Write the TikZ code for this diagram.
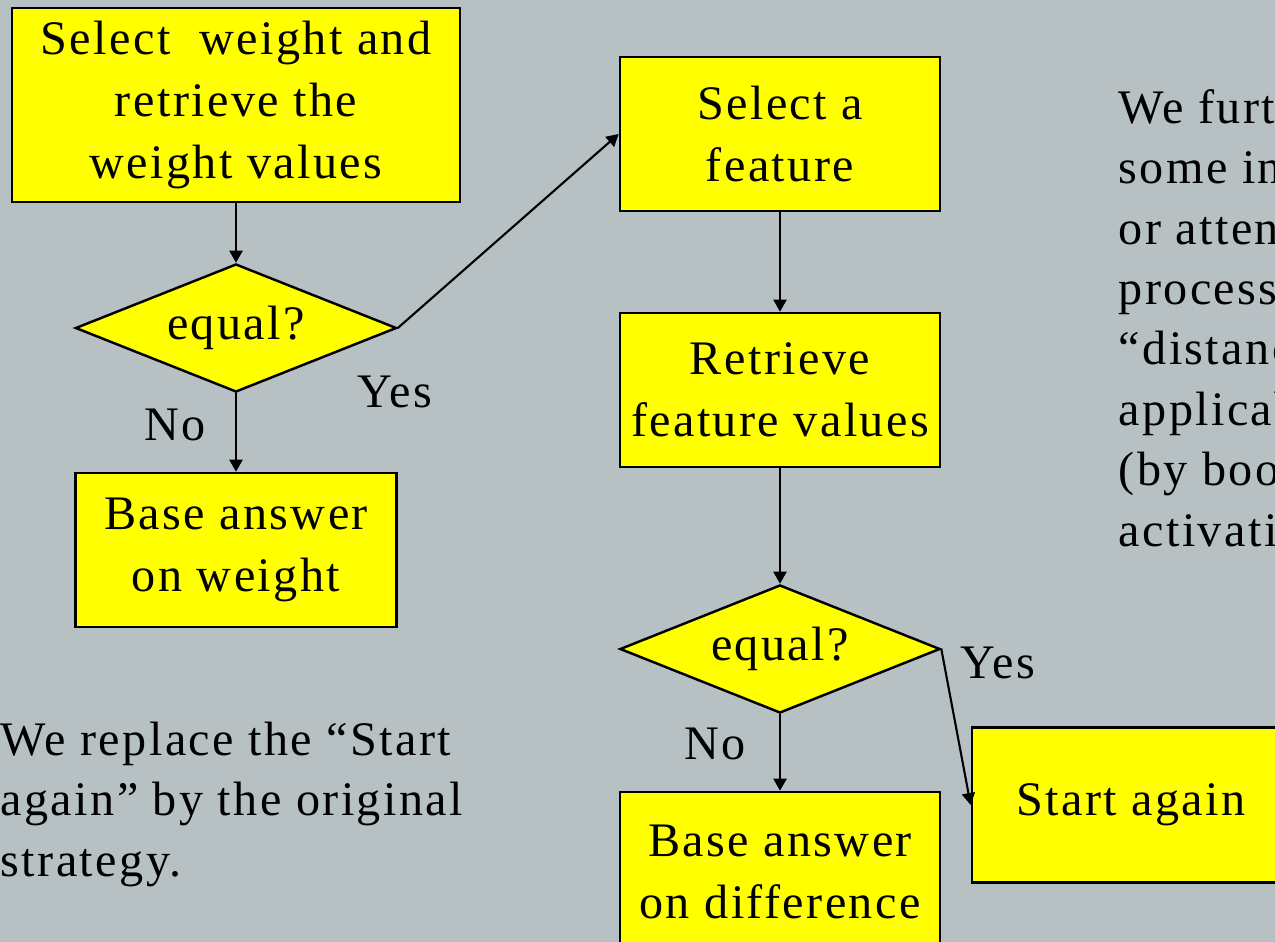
\documentclass[tikz,border=0pt]{standalone}
\usepackage{fontspec}
\setmainfont[LetterSpace=5]{Liberation Serif}
\usetikzlibrary{shapes.geometric,arrows.meta}
\definecolor{slide}{RGB}{183,193,196}
\definecolor{boxyellow}{RGB}{255,255,0}
\def\slidefont{\fontsize{13.7pt}{17.5pt}\selectfont}
\def\notefont{\fontsize{13.7pt}{17.2pt}\selectfont}

\tikzset{
	stepbox/.style={draw, fill=boxyellow, line width=0.7pt, inner sep=0pt, align=center, minimum width=3.2cm, minimum height=1.54cm},
	decide/.style={diamond, draw, fill=boxyellow, line width=0.7pt, inner sep=0pt, aspect=2.5, minimum width=3.21cm, minimum height=1.28cm},
	flow/.style={-{Triangle[length=1.2mm, width=1.3mm]}, line width=0.6pt},
	note/.style={align=left, inner sep=0pt, anchor=west, font=\notefont}
}

\begin{document}
\begin{tikzpicture}[x=0.01cm, y=-0.01cm, font=\slidefont]
			%%%%% START %%%%%
			
			\useasboundingbox (0, 0) rectangle (1275, 942);
			\clip (0, 0) rectangle (1275, 942);
			\fill[slide] (0, 0) rectangle (1275, 942);
			
			% weight branch
			\node[stepbox, minimum width=4.48cm, minimum height=1.94cm] (weight) at (236, 105) {Select \ weight and\\retrieve the\\weight values};
			\node[decide] (eqweight) at (236, 328) {equal?};
			\node[stepbox, minimum width=3.21cm] (baseweight) at (236, 550) {Base answer\\on weight};
			
			% feature branch
			\node[stepbox] (feature) at (780, 134) {Select a\\feature};
			\node[stepbox] (retrieve) at (780, 390) {Retrieve\\feature values};
			\node[decide, minimum width=3.2cm] (eqfeature) at (780, 649) {equal?};
			\node[stepbox, minimum height=1.6cm] (basediff) at (780, 872) {Base answer\\on difference};
			\node[stepbox, minimum width=3.18cm, minimum height=1.55cm] (again) at (1131, 805) {Start again};
			
			\node (noweight) at (175, 425) {No};
			\node (yesweight) at (395, 392) {Yes};
			\node (nofeature) at (715, 744) {No};
			\node (yesfeature) at (998, 663) {Yes};
			
			\draw[flow] (weight) -- (eqweight);
			\draw[flow] (eqweight) -- (baseweight);
			\draw[flow] (eqweight.east) -- (feature.west);
			\draw[flow] (feature) -- (retrieve);
			\draw[flow] (retrieve) -- (eqfeature);
			\draw[flow] (eqfeature) -- (basediff);
			\draw[flow] (eqfeature.east) -- (again.west);
			
			% side notes
			\node[note] (replace) at (0, 804) {We replace the “Start\\again” by the original\\strategy.};
			\node[note] (further) at (1118, 318) {We furt\\some in\\or atten\\process\\“distanc\\applicab\\(by boo\\activati};
			
			%%%%% END %%%%%
		\end{tikzpicture}
\end{document}
